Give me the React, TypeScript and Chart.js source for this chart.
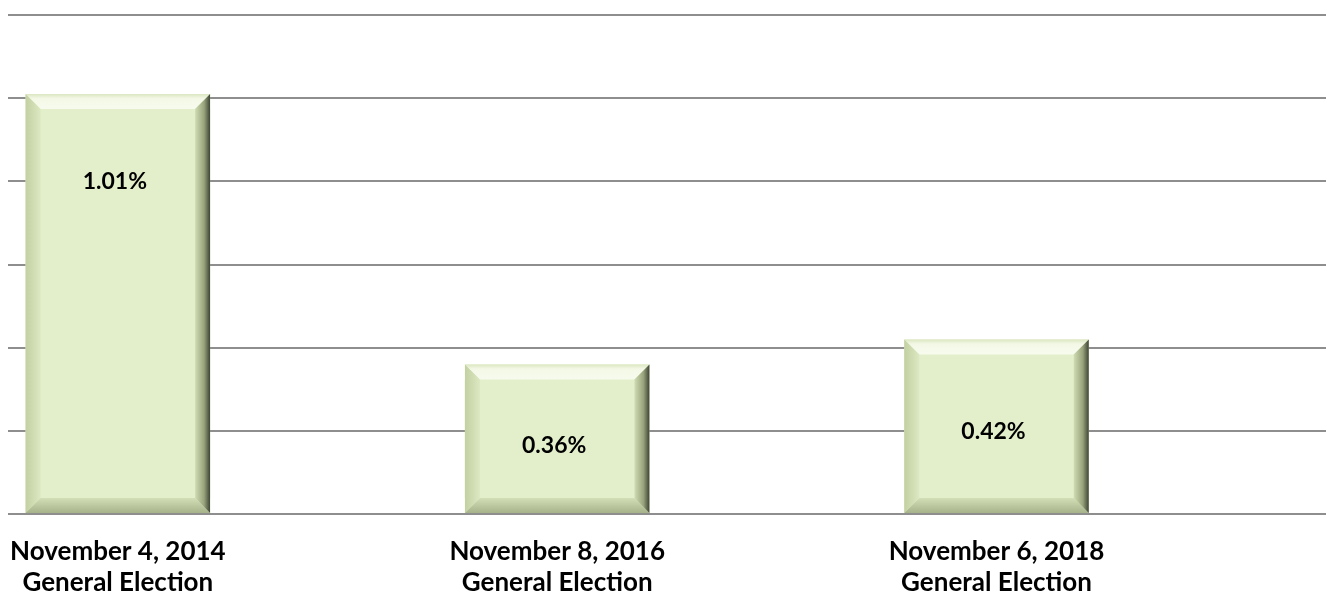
import React, { useEffect, useRef } from "react";
import { Chart, registerables } from "chart.js";

Chart.register(...registerables);

const categories: string[][] = [
  ["November 4, 2014", "General Election"],
  ["November 8, 2016", "General Election"],
  ["November 6, 2018", "General Election"],
];
const values: number[] = [1.01, 0.36, 0.42];
const valueLabels: string[] = ["1.01%", "0.36%", "0.42%"];
const labelAnchor: number[] = [0.8, 0.165, 0.198];
const yTicks: number[] = [0, 0.2, 0.4, 0.6, 0.8, 1.0, 1.2];

const FONT = "Lato, 'Open Sans', sans-serif";

const bevelPlugin = {
  id: "bevel",
  afterDatasetsDraw(chart: any) {
    const ctx = chart.ctx as CanvasRenderingContext2D;
    const meta = chart.getDatasetMeta(0);
    const yScale = chart.scales.y;
    meta.data.forEach((el: any, i: number) => {
      const { x, y, base, width } = el.getProps(["x", "y", "base", "width"], true);
      const l = x - width / 2;
      const r = x + width / 2;
      const t = y;
      const bt = base;
      const b = 15;
      ctx.save();
      // top
      let g = ctx.createLinearGradient(0, t, 0, t + b);
      g.addColorStop(0, "#dbe6c0");
      g.addColorStop(0.3, "#f3f8e6");
      g.addColorStop(1, "#f7fbee");
      ctx.fillStyle = g;
      ctx.beginPath();
      ctx.moveTo(l, t); ctx.lineTo(r, t); ctx.lineTo(r - b, t + b); ctx.lineTo(l + b, t + b); ctx.closePath();
      ctx.fill();
      // left
      g = ctx.createLinearGradient(l, 0, l + b, 0);
      g.addColorStop(0, "#c2d0a2");
      g.addColorStop(1, "#dce8c2");
      ctx.fillStyle = g;
      ctx.beginPath();
      ctx.moveTo(l, t); ctx.lineTo(l + b, t + b); ctx.lineTo(l + b, bt - b); ctx.lineTo(l, bt); ctx.closePath();
      ctx.fill();
      // bottom
      g = ctx.createLinearGradient(0, bt - b, 0, bt);
      g.addColorStop(0, "#d2deb6");
      g.addColorStop(1, "#a6b289");
      ctx.fillStyle = g;
      ctx.beginPath();
      ctx.moveTo(l, bt); ctx.lineTo(l + b, bt - b); ctx.lineTo(r - b, bt - b); ctx.lineTo(r, bt); ctx.closePath();
      ctx.fill();
      // right
      g = ctx.createLinearGradient(r - b, 0, r, 0);
      g.addColorStop(0, "#d0dcb3");
      g.addColorStop(0.6, "#98a37c");
      g.addColorStop(1, "#3e4434");
      ctx.fillStyle = g;
      ctx.beginPath();
      ctx.moveTo(r, t); ctx.lineTo(r, bt); ctx.lineTo(r - b, bt - b); ctx.lineTo(r - b, t + b); ctx.closePath();
      ctx.fill();
      // value label
      ctx.fillStyle = "#000";
      ctx.font = `bold 23px ${FONT}`;
      ctx.textAlign = "center";
      ctx.textBaseline = "middle";
      ctx.fillText(valueLabels[i], x - 3, yScale.getPixelForValue(labelAnchor[i]));
      ctx.restore();
    });
  },
};

export default function App() {
  const ref = useRef<HTMLCanvasElement | null>(null);
  useEffect(() => {
    if (!ref.current) return;
    const chart = new Chart(ref.current, {
      type: "bar",
      data: {
        datasets: [
          {
            data: values.map((v, i) => ({ x: i, y: v })),
            backgroundColor: "#e3efca",
            borderWidth: 0,
            barPercentage: 1,
            categoryPercentage: 0.42,
          },
        ],
      },
      options: {
        animation: false,
        responsive: true,
        maintainAspectRatio: false,
        layout: { padding: { left: 8, right: 1, top: 15, bottom: -23 } },
        plugins: { legend: { display: false }, tooltip: { enabled: false } },
        scales: {
          x: {
            type: "linear",
            offset: false,
            min: -0.25,
            max: 2.75,
            grid: { display: false, drawTicks: false },
            border: { display: false },
            afterBuildTicks: (scale: any) => {
              scale.ticks = categories.map((_, i) => ({ value: i }));
            },
            afterFit: (scale: any) => {
              scale.paddingLeft = 0;
              scale.paddingRight = 0;
            },
            ticks: {
              autoSkip: false,
              maxRotation: 0,
              padding: 22,
              color: "#000",
              font: { family: FONT, size: 26, weight: "bold", lineHeight: 1.19 },
              callback: (v: any) => categories[v as number] ?? "",
            },
          },
          y: {
            min: 0,
            max: 1.2,
            afterBuildTicks: (scale: any) => {
              scale.ticks = yTicks.map((v) => ({ value: v }));
            },
            ticks: { display: false },
            grid: { color: "#8e8e8e", lineWidth: 2, drawTicks: false },
            border: { display: false },
          },
        },
      },
      plugins: [bevelPlugin],
    } as any);
    return () => chart.destroy();
  }, []);
  return (
    <div style={{ position: "fixed", left: 0, top: 0, width: 1327, height: 597, background: "#fff" }}>
      <canvas ref={ref} />
    </div>
  );
}
